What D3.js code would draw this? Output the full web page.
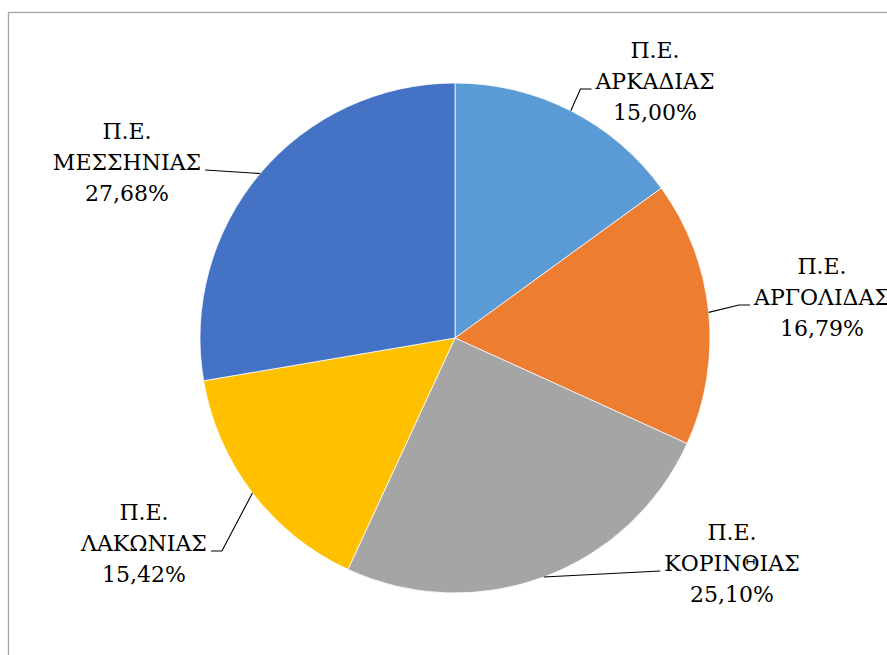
<!DOCTYPE html>
<html>
<head>
<meta charset="utf-8">
<script src="https://cdn.jsdelivr.net/npm/d3@7"></script>
<style>
  html, body { margin: 0; padding: 0; background: #fff; }
  svg { display: block; }
  text { font-family: "DejaVu Serif", "Liberation Serif", serif; fill: #000; }
</style>
</head>
<body>
<svg id="chart" width="887" height="655"></svg>
<script>
// ---- data ----
const categories = ["Π.Ε. ΑΡΚΑΔΙΑΣ", "Π.Ε. ΑΡΓΟΛΙΔΑΣ", "Π.Ε. ΚΟΡΙΝΘΙΑΣ", "Π.Ε. ΛΑΚΩΝΙΑΣ", "Π.Ε. ΜΕΣΣΗΝΙΑΣ"];
const values = [15.00, 16.79, 25.10, 15.42, 27.68];
const colors = ["#5B9BD5", "#ED7D31", "#A5A5A5", "#FFC000", "#4472C4"];

// ---- layout (label placement: center x, baseline of middle line, side of leader attach) ----
const labelPos = [
  { x: 655, y: 89, side: "left", elbow: true },
  { x: 822, y: 305, side: "left", elbow: true },
  { x: 732, y: 571, side: "left", elbow: false },
  { x: 144, y: 551, side: "right", elbow: true },
  { x: 127, y: 170, side: "right", elbow: false }
];

const width = 887, height = 655;
const cx = 455, cy = 338, radius = 255;
const lineH = 31;
const fontSize = 22;

const svg = d3.select("#chart");

// chart frame
svg.append("rect")
  .attr("x", 8.5).attr("y", 12.5)
  .attr("width", 900).attr("height", 700)
  .attr("fill", "none").attr("stroke", "#A6A6A6").attr("stroke-width", 1.3);

const pie = d3.pie().sort(null).value(d => d)
  .startAngle(0).endAngle(2 * Math.PI);
const arcs = pie(values);
const arc = d3.arc().innerRadius(0).outerRadius(radius);

const g = svg.append("g").attr("transform", `translate(${cx},${cy})`);

g.selectAll("path.slice")
  .data(arcs)
  .join("path")
  .attr("class", "slice")
  .attr("d", arc)
  .attr("fill", (d, i) => colors[i])
  .attr("stroke", "#fff")
  .attr("stroke-width", 0.75);

const fmt = v => v.toFixed(2).replace(".", ",") + "%";

// labels
arcs.forEach((a, i) => {
  const lp = labelPos[i];
  const parts = categories[i].split(" ");
  const lines = [parts[0], parts.slice(1).join(" "), fmt(values[i])];
  const t = svg.append("text")
    .attr("text-anchor", "middle")
    .attr("font-size", fontSize);
  lines.forEach((ln, k) => {
    t.append("tspan")
      .attr("x", lp.x)
      .attr("y", lp.y + (k - 1) * lineH)
      .text(ln);
  });
  // leader line
  const mid = (a.startAngle + a.endAngle) / 2;
  const sx = cx + radius * Math.sin(mid);
  const sy = cy - radius * Math.cos(mid);
  // width of middle line
  const w = t.selectAll("tspan").nodes()[1].getComputedTextLength();
  const ex = lp.side === "left" ? lp.x - w / 2 - 4 : lp.x + w / 2 + 4;
  const ey = lp.y;
  let pts;
  if (lp.elbow) {
    const ox = lp.side === "left" ? ex - 11 : ex + 11;
    pts = [[sx, sy], [ox, ey], [ex, ey]];
  } else {
    pts = [[sx, sy], [ex, ey]];
  }
  svg.append("path")
    .attr("d", d3.line()(pts))
    .attr("fill", "none")
    .attr("stroke", "#000")
    .attr("stroke-width", 1.1);
});
</script>
</body>
</html>
